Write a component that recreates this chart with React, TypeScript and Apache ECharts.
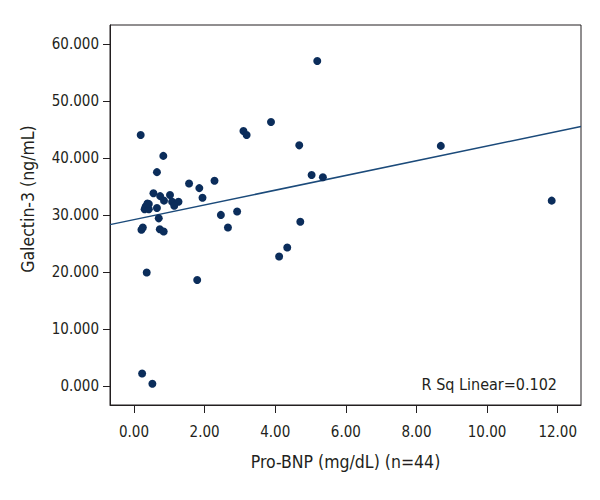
import React, { useEffect, useRef } from "react";
import * as echarts from "echarts";

const proBNP: number[] = [
  0.19, 0.83, 0.65, 1.56, 2.28, 1.85, 1.94, 0.55, 0.74, 1.02, 0.85, 1.08, 1.26, 1.14,
  0.42, 0.33, 0.3, 0.42, 0.65, 0.7, 0.25, 0.21, 0.73, 0.84, 2.46, 2.92, 2.66, 3.1,
  3.19, 0.36, 1.79, 0.23, 0.52, 5.19, 3.88, 4.68, 5.03, 5.35, 4.71, 4.34, 4.11, 8.69,
  11.83, 0.38,
];
const galectin3: number[] = [
  44.0, 40.35, 37.5, 35.5, 36.0, 34.7, 33.0, 33.8, 33.3, 33.5, 32.5, 32.3, 32.3, 31.6,
  31.9, 31.5, 31.0, 31.0, 31.2, 29.4, 27.8, 27.4, 27.5, 27.1, 30.0, 30.6, 27.8, 44.7,
  44.0, 19.9, 18.6, 2.2, 0.4, 57.0, 46.3, 42.2, 37.0, 36.6, 28.8, 24.3, 22.7, 42.1,
  32.5, 32.0,
];

const fitX: number[] = [-0.68, 12.66];
const fitY: number[] = [28.3, 45.5];

const xTicks: number[] = [0, 2, 4, 6, 8, 10, 12];
const yTicks: number[] = [0, 10, 20, 30, 40, 50, 60];

const xTitle = "Pro-BNP (mg/dL) (n=44)";
const yTitle = "Galectin-3 (ng/mL)";
const rsqText = "R Sq Linear=0.102";

const FONT = "'Liberation Sans Narrow', 'DejaVu Sans Condensed', sans-serif";
const TXT = "#231f20";

export default function App() {
  const ref = useRef<HTMLDivElement>(null);
  useEffect(() => {
    if (!ref.current) return;
    const chart = echarts.init(ref.current, null, { renderer: "svg" });
    const points = proBNP.map((x, i) => [x, galectin3[i]]);
    const fit = fitX.map((x, i) => [x, fitY[i]]);
    chart.setOption({
      animation: false,
      backgroundColor: "#ffffff",
      textStyle: { fontFamily: FONT },
      grid: {
        left: 110,
        top: 25,
        width: 471,
        height: 380,
        show: true,
        borderColor: "#231f20",
        borderWidth: 1,
        backgroundColor: "transparent",
      },
      xAxis: {
        type: "value",
        min: -0.68,
        max: 12.66,
        splitLine: { show: false },
        axisLine: { show: true, onZero: false, lineStyle: { color: "#231f20" } },
        axisTick: {
          show: true,
          length: 8,
          customValues: xTicks,
          lineStyle: { color: "#231f20" },
        },
        axisLabel: {
          customValues: xTicks,
          formatter: (v: number) => v.toFixed(2),
          color: TXT,
          fontSize: 15,
          fontFamily: FONT,
          margin: 19,
        },
        name: xTitle,
        nameLocation: "middle",
        nameGap: 48,
        nameTextStyle: { color: TXT, fontSize: 17.5, fontFamily: FONT },
      },
      yAxis: {
        type: "value",
        min: -3.33,
        max: 63.3,
        splitLine: { show: false },
        axisLine: { show: true, onZero: false, lineStyle: { color: "#231f20" } },
        axisTick: {
          show: true,
          length: 7,
          customValues: yTicks,
          lineStyle: { color: "#231f20" },
        },
        axisLabel: {
          customValues: yTicks,
          formatter: (v: number) => v.toFixed(3),
          color: TXT,
          fontSize: 15,
          fontFamily: FONT,
          margin: 11,
        },
      },
      graphic: [
        {
          type: "text",
          x: 28,
          y: 199,
          rotation: Math.PI / 2,
          style: {
            text: yTitle,
            fill: TXT,
            font: `17.5px ${FONT}`,
            align: "center",
            verticalAlign: "middle",
          },
        },
        {
          type: "text",
          x: 557,
          y: 384,
          style: {
            text: rsqText,
            fill: TXT,
            font: `16px ${FONT}`,
            align: "right",
            verticalAlign: "middle",
          },
        },
      ],
      series: [
        {
          type: "line",
          data: fit,
          symbol: "none",
          lineStyle: { color: "#1b4a7a", width: 1.5 },
          silent: true,
          z: 2,
        },
        {
          type: "scatter",
          data: points,
          symbolSize: 8,
          itemStyle: { color: "#0b2d5b", opacity: 1 },
          z: 3,
        },
      ],
    });
    return () => chart.dispose();
  }, []);
  return (
    <div
      ref={ref}
      style={{ position: "absolute", left: 0, top: 0, width: 600, height: 500 }}
    />
  );
}
